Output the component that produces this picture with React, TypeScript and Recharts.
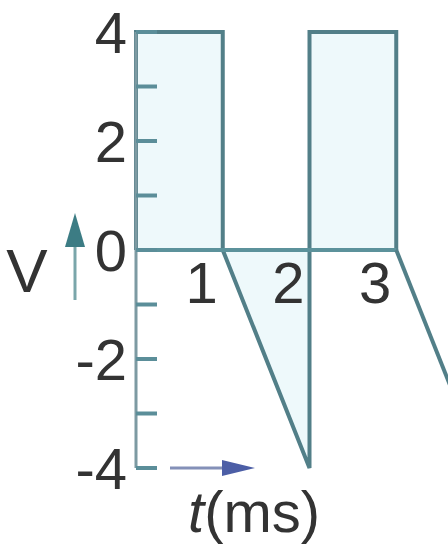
import { Area, ComposedChart, Line, ReferenceDot, ReferenceLine, XAxis, YAxis } from "recharts"

// waveform samples: time in ms, voltage in V
const times = [0, 0, 1, 1, 2, 2, 3, 3, 4]
const pulseVolts = [0, 4, 4, 0, -4, 4, 4, 0, null]
const tailVolts = [null, null, null, null, null, null, null, 0, -4]

const yTicks = [-4, -3, -2, -1, 0, 1, 2, 3, 4]
const yLabels = ["-4", "", "-2", "", "0", "", "2", "", "4"]
const xTicks = [1, 2, 3]
const xLabels = ["1", "2", "3"]

const data = times.map((t, i) => ({ t, pulse: pulseVolts[i], tail: tailVolts[i] }))

const font = "'Liberation Sans', Arial, sans-serif"
const ink = "#333"
const waveColor = "#527f88"

function YTick({ x, y, payload }: any) {
  const label = yLabels[yTicks.indexOf(payload.value)]
  return (
    <g>
      <line x1={x} x2={x + 21} y1={y} y2={y} stroke="#5b8e99" strokeWidth={4} />
      {label ? (
        <text x={x - 9} y={y} dy={21} textAnchor="end" fontSize={58} fontFamily={font} fill={ink}>
          {label}
        </text>
      ) : null}
    </g>
  )
}

function VoltLabel(props: any) {
  const { x, y, height } = props.viewBox
  const mid = y + height / 2
  return (
    <g>
      <text x={x + 27} y={mid + 42} textAnchor="middle" fontSize={62} fontFamily={font} fill={ink}>
        V
      </text>
      <line x1={x + 75} x2={x + 75} y1={mid + 50} y2={mid - 8} stroke="#7aa6aa" strokeWidth={3} />
      <polygon points={`${x + 65},${mid - 3} ${x + 75},${mid - 37} ${x + 85},${mid - 3}`} fill="#3c7c84" />
    </g>
  )
}

function TimeLabel(props: any) {
  const { x, y } = props.viewBox
  return (
    <g>
      <line x1={x + 34} x2={x + 95} y1={y} y2={y} stroke="#8490b8" strokeWidth={3} />
      <polygon points={`${x + 86},${y - 8} ${x + 119},${y} ${x + 86},${y + 8}`} fill="#4c5ea6" />
      <text x={x + 52} y={y + 64} fontSize={58} fontFamily={font} fill={ink}>
        <tspan fontStyle="italic">t</tspan>(ms)
      </text>
    </g>
  )
}

function tickText(label: string) {
  return (props: any) => {
    const vb = props.viewBox ?? props
    return (
      <text x={vb.x - 5} y={vb.y + 53} textAnchor="end" fontSize={58} fontFamily={font} fill={ink}>
        {label}
      </text>
    )
  }
}

export default function App() {
  return (
    <div style={{ position: "absolute", left: 0, top: 0, width: 448, height: 546, overflow: "hidden", background: "#fff" }}>
      <ComposedChart width={483} height={546} data={data} margin={{ top: 32, right: 0, bottom: 0, left: 0 }}>
        <XAxis
          dataKey="t"
          type="number"
          domain={[0, 4]}
          height={78}
          tick={false}
          tickLine={false}
          axisLine={false}
          label={(p: any) => <TimeLabel {...p} />}
        />
        <YAxis
          type="number"
          domain={[-4, 4]}
          ticks={yTicks}
          interval={0}
          width={136}
          tickSize={0}
          tickMargin={0}
          tickLine={false}
          axisLine={{ stroke: "#7d9aa2", strokeWidth: 3 }}
          tick={(p: any) => <YTick {...p} />}
          label={(p: any) => <VoltLabel {...p} />}
        />
        <ReferenceLine
          segment={[
            { x: 0, y: 0 },
            { x: 3, y: 0 },
          ]}
          stroke="#5c929b"
          strokeWidth={4}
        />
        <Area
          dataKey="pulse"
          type="linear"
          baseValue={0}
          stroke={waveColor}
          strokeWidth={4}
          fill="#eef9fb"
          fillOpacity={1}
          dot={false}
          activeDot={false}
          connectNulls={false}
          isAnimationActive={false}
        />
        <Line
          dataKey="tail"
          type="linear"
          stroke={waveColor}
          strokeWidth={4}
          dot={false}
          activeDot={false}
          connectNulls={false}
          isAnimationActive={false}
        />
        {xTicks.map((t, i) => (
          <ReferenceDot key={t} x={t} y={0} r={0} fill="none" stroke="none" label={tickText(xLabels[i])} />
        ))}
      </ComposedChart>
    </div>
  )
}
